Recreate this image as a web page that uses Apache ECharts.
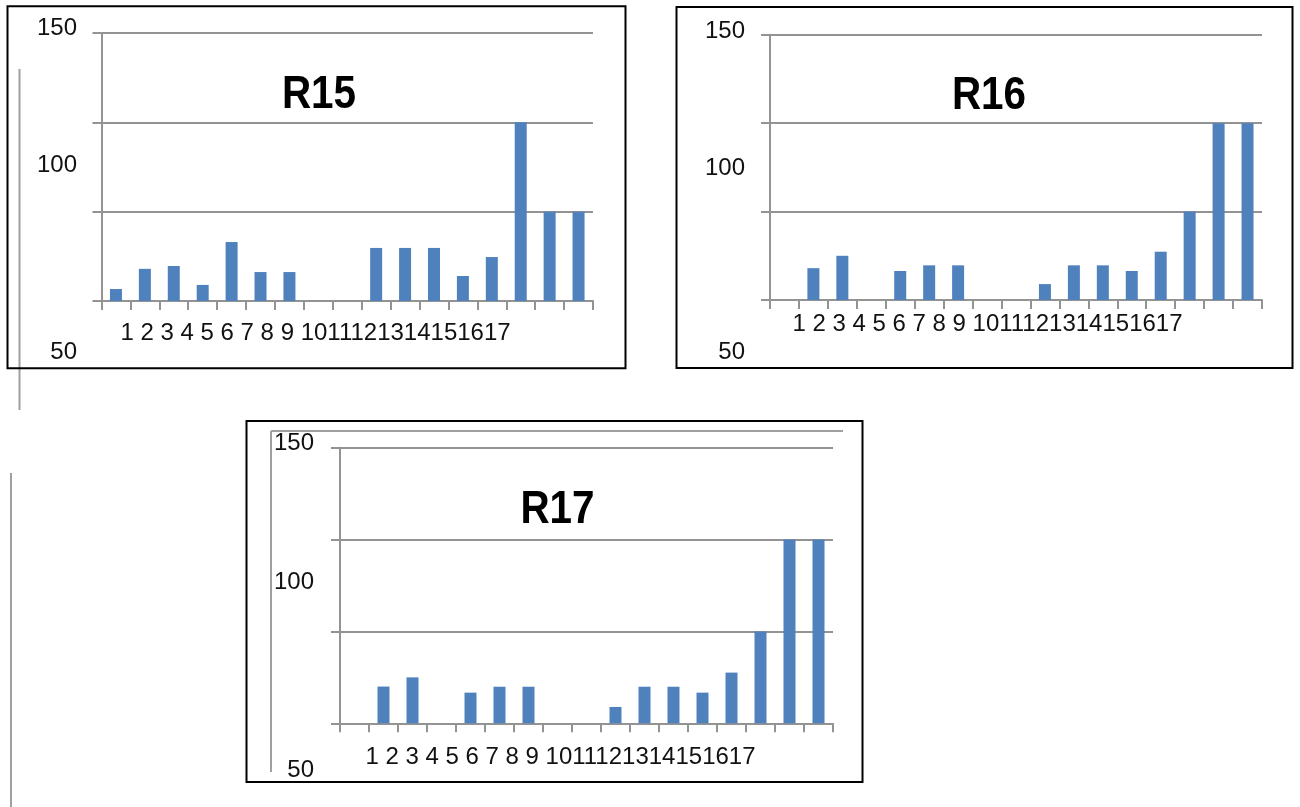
<!DOCTYPE html>
<html>
<head>
<meta charset="utf-8">
<script src="https://cdn.jsdelivr.net/npm/echarts@6/dist/echarts.min.js"></script>
<style>
html,body{margin:0;padding:0;background:#fff;}
#chart{width:1300px;height:807px;}
</style>
</head>
<body>
<div id="chart"></div>
<script>
// ---- data ----
const categories = ['1','2','3','4','5','6','7','8','9','10','11','12','13','14','15','16','17'];
const titles = ['R15', 'R16', 'R17'];
const r15Values = [6.7, 18, 19.6, 9, 33, 16.2, 16.2, 0, 0, 29.7, 29.7, 29.7, 14, 24.6, 100, 50, 50];
const r16Values = [0, 18, 25, 0, 16.4, 19.6, 19.6, 0, 0, 9, 19.6, 19.6, 16.4, 27.3, 50, 100, 100];
const r17Values = [0, 20, 25, 0, 16.7, 19.9, 19.9, 0, 0, 8.9, 19.9, 19.9, 16.7, 27.6, 50, 100, 100];
const yTickLabels = ['150', '100', '50'];
const yMin = 0, yMax = 150, yInterval = 50;

// ---- layout ----
const panels = [
  { grid: {left: 101.5, top: 33, width: 491.5, height: 268},
    box: [7.5, 6.3, 618, 362],
    title: [319, 95],
    yLab: {x: 77, ys: [28, 165, 352]},
    xLab: [120.5, 333] },
  { grid: {left: 770, top: 34.7, width: 492, height: 265.3},
    box: [676.5, 7, 616, 361],
    title: [989, 96.5],
    yLab: {x: 745, ys: [31, 168, 352]},
    xLab: [792.4, 324] },
  { grid: {left: 340, top: 447.7, width: 493, height: 275.6},
    box: [246.5, 421, 616, 361],
    title: [557.5, 510],
    yLab: {x: 314, ys: [443, 582, 770]},
    xLab: [365.4, 757] }
];
const seriesValues = [r15Values, r16Values, r17Values];

const gridLineColor = '#939393';
const labelFont = '"Liberation Sans", Arial, sans-serif';
const titleFont = '"Liberation Sans", Arial, sans-serif';
const xLabelText = categories.map(c => c.length === 1 ? c + ' ' : c).join('');

const grids = [], xAxes = [], yAxes = [], series = [], graphics = [];
panels.forEach((p, i) => {
  grids.push(Object.assign({containLabel: false}, p.grid));
  xAxes.push({
    type: 'category', gridIndex: i, data: categories,
    axisLine: {show: true, lineStyle: {color: gridLineColor, width: 2}},
    axisTick: {show: true, length: 9, lineStyle: {color: gridLineColor, width: 2}},
    axisLabel: {show: false}
  });
  yAxes.push({
    type: 'value', gridIndex: i, min: yMin, max: yMax, interval: yInterval,
    axisLine: {show: true, lineStyle: {color: gridLineColor, width: 2}},
    axisTick: {show: true, length: 9, lineStyle: {color: gridLineColor, width: 2}},
    axisLabel: {show: false},
    splitLine: {show: true, lineStyle: {color: gridLineColor, width: 2}}
  });
  series.push({
    type: 'bar', xAxisIndex: i, yAxisIndex: i, data: seriesValues[i],
    barWidth: 12, itemStyle: {color: '#4F81BD'}, silent: true
  });
  // panel frame
  graphics.push({type: 'rect', shape: {x: p.box[0], y: p.box[1], width: p.box[2], height: p.box[3]},
    style: {fill: null, stroke: '#000', lineWidth: 2}, z: 10});
  // title (narrowed to mimic a condensed bold face)
  graphics.push({type: 'text', x: p.title[0], y: p.title[1], scaleX: 0.86,
    style: {text: titles[i], font: 'bold 47px ' + titleFont, fill: '#000', textAlign: 'center', textVerticalAlign: 'middle'}});
  // y labels
  yTickLabels.forEach((t, k) => {
    graphics.push({type: 'text', x: p.yLab.x, y: p.yLab.ys[k],
      style: {text: t, font: '24px ' + labelFont, fill: '#111', textAlign: 'right', textVerticalAlign: 'middle'}});
  });
  // x labels
  graphics.push({type: 'text', x: p.xLab[0], y: p.xLab[1],
    style: {text: xLabelText, font: '24px ' + labelFont, fill: '#111', textAlign: 'left', textVerticalAlign: 'middle'}});
});

// stray grey rules
const grey = {stroke: '#a0a0a0', lineWidth: 2};
[[19.5, 69, 19.5, 410], [11, 473, 11, 807], [271, 431, 843, 431], [271, 431, 271, 772]].forEach(l => {
  graphics.push({type: 'line', shape: {x1: l[0], y1: l[1], x2: l[2], y2: l[3]}, style: grey});
});

const chart = echarts.init(document.getElementById('chart'), null, {renderer: 'canvas'});
chart.setOption({
  animation: false,
  backgroundColor: '#fff',
  grid: grids, xAxis: xAxes, yAxis: yAxes, series: series,
  graphic: graphics
});
</script>
</body>
</html>
